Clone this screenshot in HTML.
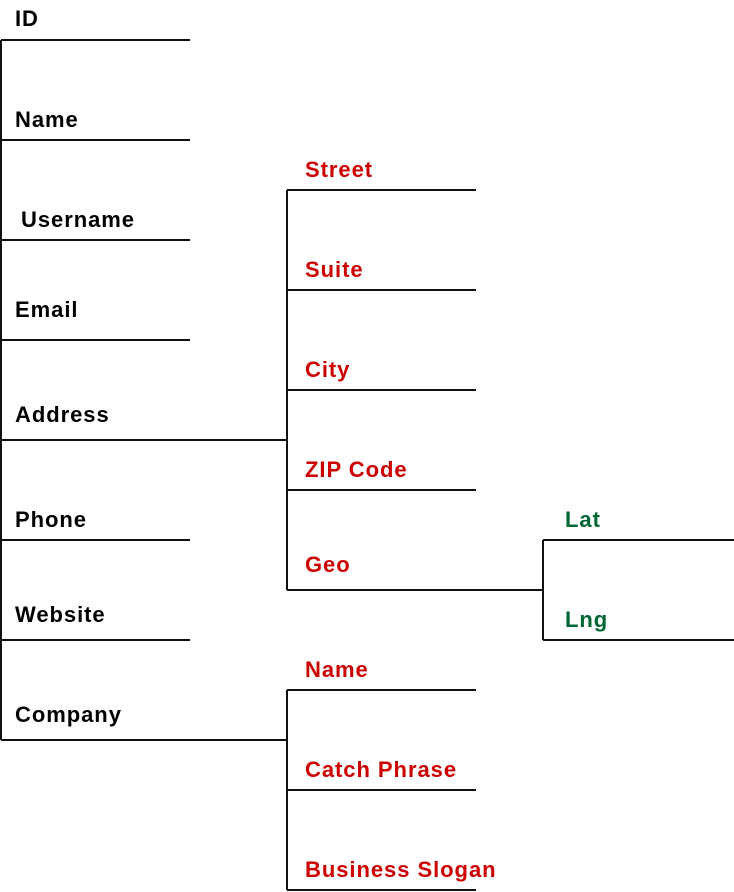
<!DOCTYPE html>
<html><head><style>body{margin:0;background:#fff}svg{display:block}</style></head><body>
<svg width="734" height="892" xmlns="http://www.w3.org/2000/svg" font-family="Liberation Sans, Arial, sans-serif" font-weight="bold" font-size="22" letter-spacing="0.95">
<g stroke="#111" stroke-width="2" fill="none">
<path d="M1 40V740"/>
<path d="M1 40H190M1 140H190M1 240H190M1 340H190M1 440H287M1 540H190M1 640H190M1 740H287"/>
<path d="M287 190V590M287 190H476M287 290H476M287 390H476M287 490H476M287 590H543"/>
<path d="M543 540V640M543 540H734M543 640H734"/>
<path d="M287 690V890M287 690H476M287 790H476M287 890H476"/>
</g>
<g fill="#000">
<text x="15" y="26">ID</text>
<text x="15" y="127">Name</text>
<text x="21" y="227">Username</text>
<text x="15" y="317">Email</text>
<text x="15" y="422">Address</text>
<text x="15" y="527">Phone</text>
<text x="15" y="622">Website</text>
<text x="15" y="722">Company</text>
</g>
<g fill="#cc0000">
<text x="305" y="177">Street</text>
<text x="305" y="277">Suite</text>
<text x="305" y="377">City</text>
<text x="305" y="477">ZIP Code</text>
<text x="305" y="572">Geo</text>
<text x="305" y="677">Name</text>
<text x="305" y="777">Catch Phrase</text>
<text x="305" y="877">Business Slogan</text>
</g>
<g fill="#006633">
<text x="565" y="527">Lat</text>
<text x="565" y="627">Lng</text>
</g>
</svg>
</body></html>
